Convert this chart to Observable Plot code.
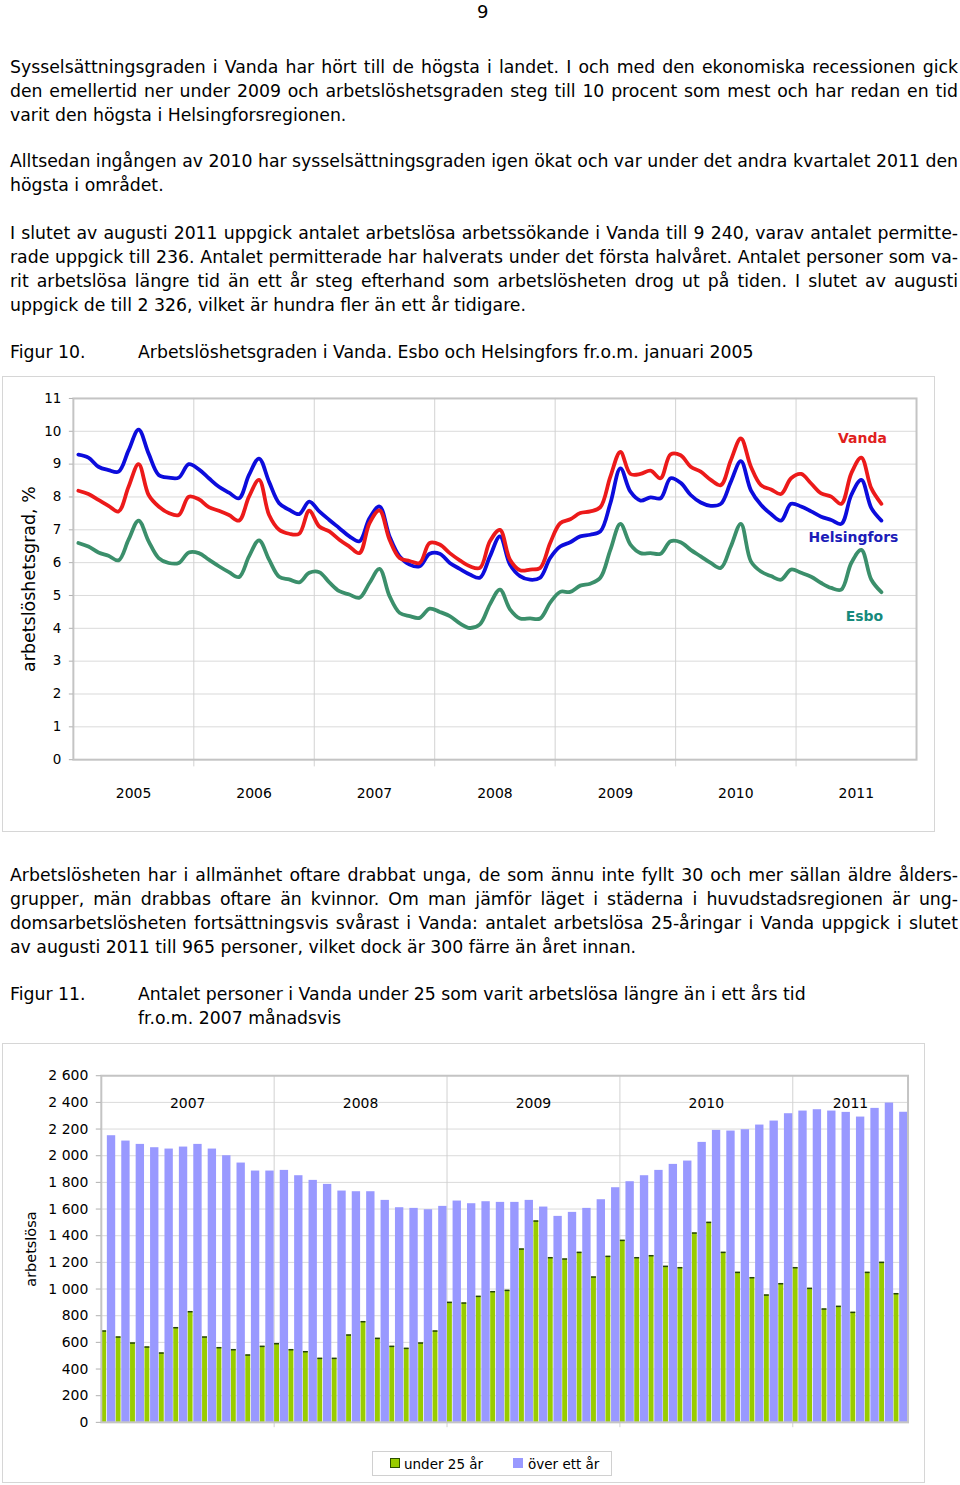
<!DOCTYPE html>
<html><head><meta charset="utf-8">
<script src="https://cdn.jsdelivr.net/npm/d3@7"></script>
<script src="https://cdn.jsdelivr.net/npm/@observablehq/plot@0.6"></script>
<style>
body{margin:0;background:#fff;}
#page{position:relative;width:960px;height:1485px;overflow:hidden;font-family:"DejaVu Sans",sans-serif;font-size:17.3px;color:#000;}
.l{position:absolute;left:10px;width:948px;line-height:24px;height:24px;white-space:nowrap;}
.j{text-align:justify;text-align-last:justify;}
.box{position:absolute;border:1px solid #d6d6d6;box-sizing:border-box;}
.box svg{position:absolute;left:0;top:0;}
#legend{position:absolute;left:372px;top:1451px;width:240px;height:25px;border:1px solid #d0d0d0;box-sizing:border-box;font-size:13.5px;}
.sw{position:absolute;top:6px;width:10px;height:10px;box-sizing:border-box;}
.lt{position:absolute;top:0;line-height:24px;}
</style></head>
<body><div id="page">
<div style="position:absolute;left:477px;top:0;line-height:24px;font-size:18px;">9</div>

<div class="l j" style="top:55px">Sysselsättningsgraden i Vanda har hört till de högsta i landet. I och med den ekonomiska recessionen gick</div>
<div class="l j" style="top:79px">den emellertid ner under 2009 och arbetslöshetsgraden steg till 10 procent som mest och har redan en tid</div>
<div class="l" style="top:103px">varit den högsta i Helsingforsregionen.</div>

<div class="l j" style="top:149px">Alltsedan ingången av 2010 har sysselsättningsgraden igen ökat och var under det andra kvartalet 2011 den</div>
<div class="l" style="top:173px">högsta i området.</div>

<div class="l j" style="top:221px">I slutet av augusti 2011 uppgick antalet arbetslösa arbetssökande i Vanda till 9 240, varav antalet permitte-</div>
<div class="l j" style="top:245px">rade uppgick till 236. Antalet permitterade har halverats under det första halvåret. Antalet personer som va-</div>
<div class="l j" style="top:269px">rit arbetslösa längre tid än ett år steg efterhand som arbetslösheten drog ut på tiden. I slutet av augusti</div>
<div class="l" style="top:293px">uppgick de till 2 326, vilket är hundra fler än ett år tidigare.</div>

<div class="l" style="top:340px">Figur 10.</div>
<div class="l" style="top:340px;left:138px;width:800px">Arbetslöshetsgraden i Vanda. Esbo och Helsingfors fr.o.m. januari 2005</div>

<div class="box" id="chart1" style="left:2px;top:376px;width:933px;height:456px"></div>

<div class="l j" style="top:863px">Arbetslösheten har i allmänhet oftare drabbat unga, de som ännu inte fyllt 30 och mer sällan äldre ålders-</div>
<div class="l j" style="top:887px">grupper, män drabbas oftare än kvinnor. Om man jämför läget i städerna i huvudstadsregionen är ung-</div>
<div class="l j" style="top:911px">domsarbetslösheten fortsättningsvis svårast i Vanda: antalet arbetslösa 25-åringar i Vanda uppgick i slutet</div>
<div class="l" style="top:935px">av augusti 2011 till 965 personer, vilket dock är 300 färre än året innan.</div>

<div class="l" style="top:982px">Figur 11.</div>
<div class="l" style="top:982px;left:138px;width:800px">Antalet personer i Vanda under 25 som varit arbetslösa längre än i ett års tid</div>
<div class="l" style="top:1006px;left:138px;width:800px">fr.o.m. 2007 månadsvis</div>

<div class="box" id="chart2" style="left:2px;top:1043px;width:923px;height:440px"></div>

<div id="legend">
  <div class="sw" style="left:17px;background:#99cc00;border:1.5px solid #2a4d00"></div>
  <div class="lt" style="left:31px">under 25 år</div>
  <div class="sw" style="left:140px;background:#9999ff"></div>
  <div class="lt" style="left:155px">över ett år</div>
</div>
</div>
<script>
// ---------- Figure 10: unemployment rate, monthly from Jan 2005 ----------
const lineYears = [2005, 2006, 2007, 2008, 2009, 2010, 2011];
const vanda = [8.19,8.09,7.91,7.73,7.56,8.31,9.00,8.06,7.71,7.51,7.45,8.01,
  7.93,7.69,7.58,7.45,7.28,8.01,8.52,7.45,7.00,6.88,6.88,7.58,
  7.10,6.95,6.70,6.49,6.29,7.20,7.59,6.70,6.14,6.05,5.99,6.60,
  6.55,6.29,6.07,5.89,5.84,6.65,7.00,6.09,5.77,5.79,5.84,6.60,
  7.20,7.32,7.51,7.56,7.69,8.62,9.37,8.70,8.70,8.80,8.57,9.30,
  9.27,8.92,8.77,8.52,8.36,9.12,9.78,8.92,8.36,8.23,8.09,8.57,
  8.70,8.41,8.11,8.01,7.79,8.72,9.20,8.26,7.79];
const helsingfors = [9.29,9.20,8.92,8.82,8.77,9.42,10.05,9.32,8.67,8.59,8.59,9.00,
  8.84,8.57,8.31,8.13,7.96,8.67,9.17,8.46,7.81,7.61,7.48,7.86,
  7.56,7.30,7.05,6.80,6.65,7.35,7.71,6.80,6.19,5.94,5.89,6.27,
  6.27,5.99,5.81,5.64,5.54,6.19,6.80,5.94,5.59,5.48,5.54,6.14,
  6.49,6.62,6.80,6.85,6.95,7.81,8.87,8.16,7.89,7.99,7.96,8.57,
  8.43,8.06,7.83,7.73,7.79,8.46,9.09,8.20,7.76,7.48,7.28,7.79,
  7.71,7.56,7.40,7.30,7.18,8.06,8.52,7.66,7.28];
const esbo = [6.60,6.49,6.31,6.21,6.07,6.70,7.28,6.65,6.14,5.99,5.99,6.31,
  6.29,6.09,5.89,5.71,5.56,6.19,6.68,6.09,5.57,5.49,5.40,5.69,
  5.71,5.40,5.13,5.03,4.93,5.38,5.81,4.98,4.47,4.37,4.32,4.60,
  4.50,4.37,4.15,4.01,4.12,4.73,5.18,4.58,4.30,4.30,4.30,4.78,
  5.11,5.11,5.30,5.36,5.54,6.39,7.18,6.55,6.29,6.29,6.27,6.65,
  6.62,6.39,6.19,5.99,5.84,6.49,7.18,6.04,5.73,5.59,5.48,5.79,
  5.69,5.57,5.38,5.23,5.18,5.99,6.39,5.48,5.10];
const yTicks1 = [0,1,2,3,4,5,6,7,8,9,10,11];

// ---------- Figure 11: persons under 25 / over one year, monthly from Jan 2007 ----------
const barYears = [2007, 2008, 2009, 2010, 2011];
const under25 = [685,640,595,565,520,710,830,640,560,545,505,570,
  590,545,530,480,480,655,755,630,570,555,595,685,
  900,895,945,980,990,1300,1510,1235,1225,1275,1090,1245,
  1365,1235,1250,1170,1160,1420,1500,1275,1125,1085,955,1040,
  1160,1005,850,870,825,1125,1200,965];
const overYear = [2150,2110,2085,2060,2050,2065,2085,2050,2000,1945,1885,1885,
  1890,1850,1815,1785,1735,1730,1730,1665,1610,1605,1595,1620,
  1660,1640,1655,1650,1650,1665,1615,1545,1575,1605,1670,1760,
  1805,1850,1890,1935,1960,2100,2190,2185,2195,2230,2260,2315,
  2335,2345,2335,2325,2290,2355,2395,2326];
const yTicks2 = [0,200,400,600,800,1000,1200,1400,1600,1800,2000,2200,2400,2600];

const FONT = '"DejaVu Sans",sans-serif';

// ---- chart 1 ----
const nCat1 = lineYears.length * 12;
const boundaries1 = lineYears.slice(1).map((y, k) => (k + 1) * 12 - 0.5);
const series = [
  {name: "Esbo", values: esbo, color: "#3b8f6b"},
  {name: "Helsingfors", values: helsingfors, color: "#0c0cdc"},
  {name: "Vanda", values: vanda, color: "#ec1a1a"}
];
const last = vanda.length - 1;
const lineMarks = series.map(s => Plot.line(s.values, {
  x: (d, i) => i, y: d => d, stroke: s.color, strokeWidth: 3.8,
  curve: "catmull-rom", strokeLinecap: "round", strokeLinejoin: "round"}));
function endLabel(s, txt, fill, dx, dy) {
  return Plot.text([s], {x: () => last, y: d => d.values[last], text: () => txt,
    dx, dy, fill, fontWeight: "bold", fontSize: 14, textAnchor: "middle"});
}
const chart1 = Plot.plot({
  width: 933, height: 456, marginLeft: 70, marginRight: 18, marginTop: 21, marginBottom: 73,
  style: {fontFamily: FONT, fontSize: "13.5px", background: "transparent", overflow: "visible", color: "#000"},
  x: {domain: [-0.5, nCat1 - 0.5], axis: null},
  y: {domain: [0, 11], axis: null},
  marks: [
    Plot.gridY(yTicks1, {stroke: "#dadada", strokeOpacity: 1}),
    Plot.ruleX(boundaries1, {y1: 11, y2: -0.22, stroke: "#d2d2d2"}),
    Plot.frame({stroke: "#c4c4c4", strokeWidth: 2}),
    Plot.axisY(yTicks1, {tickSize: 4, tickPadding: 8, stroke: "#b0b0b0", fill: "#000", fontSize: 13.5, label: null}),
    Plot.text(["arbetslöshetsgrad, %"], {frameAnchor: "left", dx: -44, rotate: -90, textAnchor: "middle", fontSize: 17.5, text: d => d}),
    Plot.text(lineYears, {x: (y, k) => k * 12 + 5.5, frameAnchor: "bottom", dy: 38, text: d => String(d), fontSize: 14}),
    ...lineMarks,
    endLabel(series[2], "Vanda", "#e0201c", -19, -65),
    endLabel(series[1], "Helsingfors", "#1c1cb8", -28, 17),
    endLabel(series[0], "Esbo", "#168a7c", -17, 24)
  ]
});
document.getElementById("chart1").appendChild(chart1);

// ---- chart 2 ----
const bars = under25.map((u, i) => ({i, u, o: overYear[i]}));
const nMonths = bars.length;
const yearCenters = barYears.map((y, k) => {
  const start = k * 12, end = Math.min(start + 12, nMonths);
  return {year: y, c: (start + end) / 2};
});
const boundaries2 = barYears.slice(1).map((y, k) => (k + 1) * 12);
const fmt = d => d3.format(",")(d).replace(/,/g, " ");
const chart2 = Plot.plot({
  width: 923, height: 440, marginLeft: 98, marginRight: 16.5, marginTop: 31.3, marginBottom: 61.3,
  style: {fontFamily: FONT, fontSize: "14px", background: "transparent", overflow: "visible", color: "#000"},
  x: {domain: [0, nMonths], axis: null},
  y: {domain: [0, 2600], axis: null},
  marks: [
    Plot.gridY(yTicks2, {stroke: "#dadada", strokeOpacity: 1}),
    Plot.ruleX(boundaries2, {y1: 2600, y2: -40, stroke: "#d2d2d2"}),
    Plot.rectY(bars, {x1: d => d.i + 0.03, x2: d => d.i + 0.37, y1: 0, y2: "u", fill: "#99cc00"}),
    Plot.ruleY(bars, {x1: d => d.i + 0.03, x2: d => d.i + 0.37, y: "u", stroke: "#24420a", strokeWidth: 1.5}),
    Plot.rectY(bars, {x1: d => d.i + 0.42, x2: d => d.i + 1, y1: 0, y2: "o", fill: "#9999ff"}),
    Plot.frame({stroke: "#c4c4c4", strokeWidth: 2}),
    Plot.axisY(yTicks2, {tickSize: 5, tickPadding: 8, stroke: "#b0b0b0", fill: "#000", fontSize: 14, tickFormat: fmt, label: null}),
    Plot.text(["arbetslösa"], {frameAnchor: "left", dx: -70, rotate: -90, textAnchor: "middle", fontSize: 14.5, text: d => d}),
    Plot.text(yearCenters, {x: "c", text: d => String(d.year), frameAnchor: "top", dy: 22, fontSize: 14})
  ]
});
document.getElementById("chart2").appendChild(chart2);
</script>
</body></html>
